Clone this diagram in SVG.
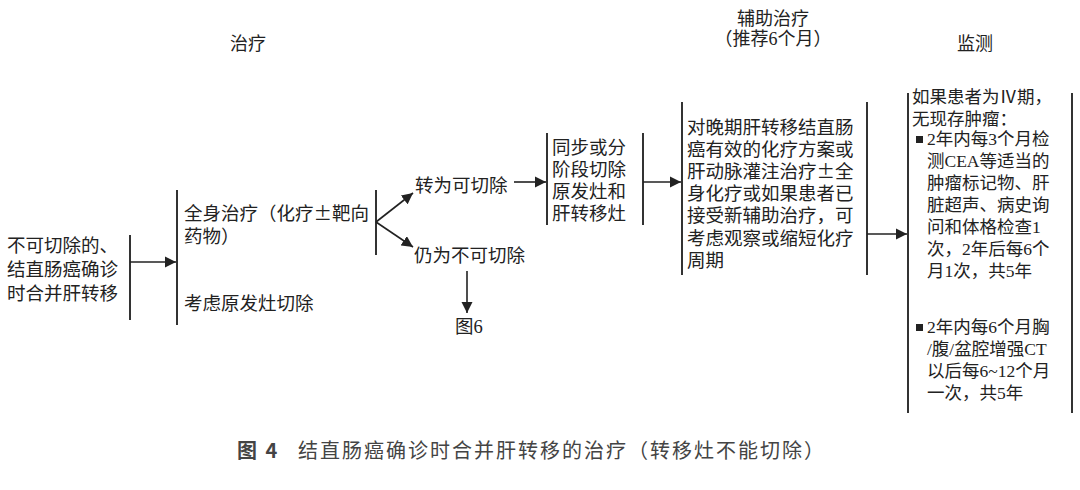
<svg xmlns="http://www.w3.org/2000/svg" width="1080" height="490" viewBox="0 0 1080 490">
<defs>
<style>
text{font-family:"Liberation Serif","Noto Sans CJK SC",serif;font-size:18.5px;fill:#222}
.h{font-size:18px}
.m{font-size:17.5px}
.pm{font-family:"Noto Sans CJK SC",sans-serif}
.bar{stroke:#333;stroke-width:2;fill:none}
.c{stroke:#222;stroke-width:1.6;fill:none}
.cap{font-family:"Noto Sans CJK SC",sans-serif;font-size:20px;fill:#444;letter-spacing:2px}
</style>
<marker id="a" viewBox="0 0 10 10" refX="10" refY="5" markerWidth="7" markerHeight="7" orient="auto"><path d="M0,0L10,5L0,10z" fill="#222"/></marker>
</defs>
<rect width="1080" height="490" fill="#fff"/>
<g id="headers">
<text class="h" x="248" y="50" text-anchor="middle">治疗</text>
<text class="h" x="773" y="25" text-anchor="middle">辅助治疗</text>
<text class="h" x="773" y="45" text-anchor="middle">（推荐6个月）</text>
<text class="h" x="975" y="50" text-anchor="middle">监测</text>
</g>
<g id="n1"><text x="7" y="252">不可切除的、</text><text x="7" y="276">结直肠癌确诊</text><text x="7" y="300">时合并肝转移</text><line class="bar" x1="130" y1="235" x2="130" y2="320"/></g>
<g id="n2"><line class="bar" x1="177" y1="190" x2="177" y2="325"/><text x="184" y="220">全身治疗（化疗<tspan class="pm">±</tspan>靶向</text><text x="184" y="243">药物）</text><text x="184" y="310">考虑原发灶切除</text></g>
<g id="n3"><line class="bar" x1="376" y1="190" x2="376" y2="255"/></g>
<g id="n4"><text x="415" y="192">转为可切除</text></g>
<g id="n5"><text x="414" y="262">仍为不可切除</text></g>
<g id="n6"><text x="455" y="333">图6</text></g>
<g id="n7"><line class="bar" x1="547" y1="133" x2="547" y2="225"/><line class="bar" x1="643" y1="133" x2="643" y2="225"/><text x="552" y="154">同步或分</text><text x="552" y="176">阶段切除</text><text x="552" y="198">原发灶和</text><text x="552" y="220">肝转移灶</text></g>
<g id="n8"><line class="bar" x1="682" y1="102" x2="682" y2="275"/><line class="bar" x1="867" y1="102" x2="867" y2="275"/>
<text x="687" y="134">对晚期肝转移结直肠</text><text x="687" y="156">癌有效的化疗方案或</text><text x="687" y="178">肝动脉灌注治疗<tspan class="pm">±</tspan>全</text><text x="687" y="200">身化疗或如果患者已</text><text x="687" y="222">接受新辅助治疗，可</text><text x="687" y="245">考虑观察或缩短化疗</text><text x="687" y="267">周期</text></g>
<g id="n9"><line class="bar" x1="908" y1="93" x2="908" y2="413"/><line class="bar" x1="1072" y1="93" x2="1072" y2="413"/>
<text class="m" x="912" y="103">如果患者为Ⅳ期，</text><text class="m" x="912" y="125">无现存肿瘤：</text>
<rect x="916" y="136" width="7" height="7" fill="#222"/>
<text class="m" x="927" y="145">2年内每3个月检</text><text class="m" x="927" y="167">测CEA等适当的</text><text class="m" x="927" y="189">肿瘤标记物、肝</text><text class="m" x="927" y="211">脏超声、病史询</text><text class="m" x="927" y="233">问和体格检查1</text><text class="m" x="927" y="255">次，2年后每6个</text><text class="m" x="927" y="277">月1次，共5年</text>
<rect x="916" y="324" width="7" height="7" fill="#222"/>
<text class="m" x="927" y="333">2年内每6个月胸</text><text class="m" x="927" y="355">/腹/盆腔增强CT</text><text class="m" x="927" y="377">以后每6~12个月</text><text class="m" x="927" y="399">一次，共5年</text></g>
<g id="connectors">
<line class="c" x1="130" y1="262" x2="176" y2="262" marker-end="url(#a)"/>
<line class="c" x1="376" y1="222" x2="413" y2="193" marker-end="url(#a)"/>
<line class="c" x1="376" y1="222" x2="413" y2="247" marker-end="url(#a)"/>
<line class="c" x1="467" y1="271" x2="467" y2="313" marker-end="url(#a)"/>
<line class="c" x1="514" y1="182" x2="546" y2="182" marker-end="url(#a)"/>
<line class="c" x1="643" y1="182" x2="681" y2="182" marker-end="url(#a)"/>
<line class="c" x1="867" y1="234" x2="907" y2="234" marker-end="url(#a)"/>
</g>
<g id="caption"><text class="cap" x="237" y="458" font-weight="bold" fill="#333">图 4</text><text class="cap" x="298" y="458">结直肠癌确诊时合并肝转移的治疗（转移灶不能切除）</text></g>
</svg>
